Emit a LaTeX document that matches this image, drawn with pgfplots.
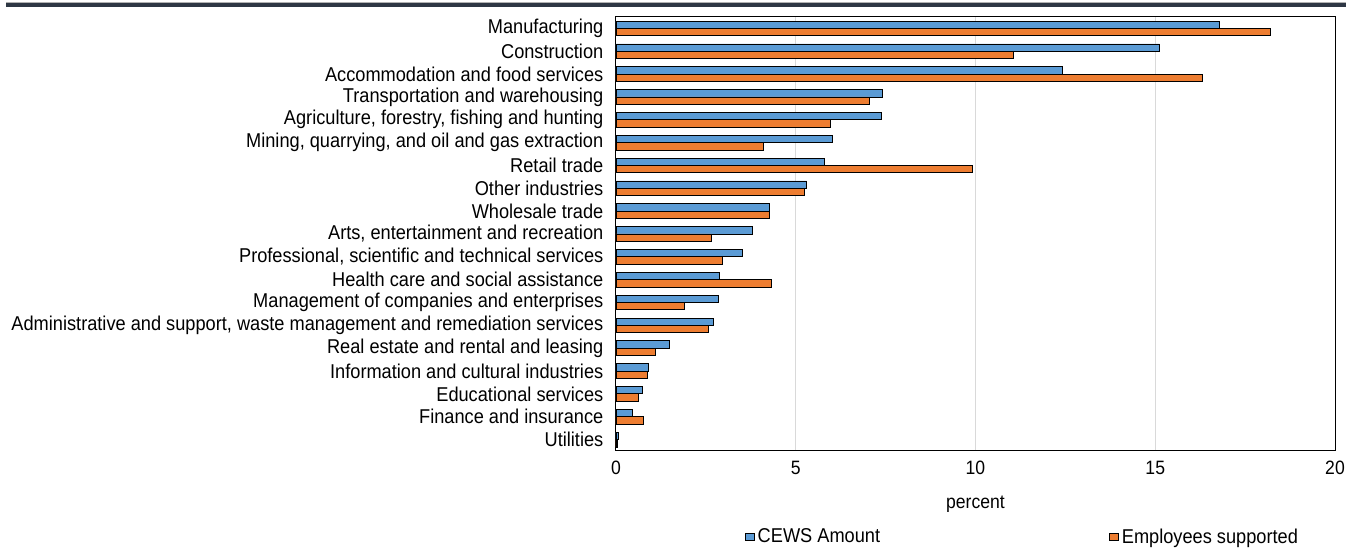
\documentclass[border=0pt]{standalone}
\usepackage{fontspec}
\setmainfont{Liberation Sans}[FakeStretch=0.91]
\usepackage{pgfplots}
\pgfplotsset{compat=1.18}
\definecolor{cblue}{HTML}{5B9BD5}
\definecolor{corange}{HTML}{ED7D31}
\definecolor{topbar}{HTML}{2E3744}
\definecolor{gridc}{HTML}{D9D9D9}
\begin{document}
\begin{tikzpicture}
\path[use as bounding box] (0,0) rectangle (1009.5pt,411pt);
\fill[topbar] (4.5pt,405.75pt) rectangle (1009.5pt,408.75pt);
\draw[gray!60,line width=0.5pt] (4.5pt,409pt) -- (1009.5pt,409pt);
\begin{axis}[
  at={(462pt,72.75pt)}, anchor=south west,
  scale only axis, width=539.25pt, height=325.5pt,
  xbar=0pt, bar width=5.5pt,
  xmin=0, xmax=20, ymin=-0.5, ymax=18.5,
  y dir=reverse,
  xtick={0,5,10,15,20},
  ytick={0,...,18},
  yticklabels={{Manufacturing},{Construction},{Accommodation and food services},{Transportation and warehousing},{Agriculture, forestry, fishing and hunting},{Mining, quarrying, and oil and gas extraction},{Retail trade},{Other industries},{Wholesale trade},{Arts, entertainment and recreation},{Professional, scientific and technical services},{Health care and social assistance},{Management of companies and enterprises},{Administrative and support, waste management and remediation services},{Real estate and rental and leasing},{Information and cultural industries},{Educational services},{Finance and insurance},{Utilities}},
  major tick length=0pt,
  xmajorgrids, major grid style={gridc, line width=0.75pt},
  axis line style={black, line width=0.75pt},
  /pgf/number format/assume math mode=true,
  yticklabel style={font=\fontsize{15pt}{17pt}\selectfont, xshift=-6pt},
  xticklabel style={font=\fontsize{14.5pt}{17pt}\selectfont, yshift=-4pt},
  xlabel={percent},
  xlabel style={font=\fontsize{14.5pt}{17pt}\selectfont, yshift=-9pt},
  legend columns=2,
  legend style={draw=none, fill=none, at={(0.1794,-0.198)}, anchor=west,
    font=\fontsize{15pt}{17pt}\selectfont,
    /tikz/every even column/.append style={column sep=170pt},
    inner sep=0pt, cells={anchor=west}},
  legend image code/.code={\draw[#1, line width=0.6pt] (0pt,-2.6pt) rectangle (6.75pt,2.6pt);},
  every axis plot/.append style={draw=black, line width=0.6pt},
]
\addplot[fill=cblue, bar shift=2.75pt] coordinates {
(16.78,0) (15.12,1) (12.43,2) (7.40,3) (7.37,4) (6.02,5) (5.80,6) (5.30,7) (4.26,8) (3.80,9)
(3.51,10) (2.87,11) (2.86,12) (2.71,13) (1.48,14) (0.90,15) (0.73,16) (0.46,17) (0.06,18)};
\addplot[fill=corange, bar shift=-2.75pt] coordinates {
(18.19,0) (11.06,1) (16.32,2) (7.04,3) (5.95,4) (4.09,5) (9.92,6) (5.23,7) (4.28,8) (2.66,9)
(2.96,10) (4.33,11) (1.90,12) (2.57,13) (1.09,14) (0.87,15) (0.61,16) (0.75,17) (0.04,18)};
\legend{CEWS Amount, Employees supported}
\draw[black, line width=1.5pt] (rel axis cs:0,0) -- (rel axis cs:1,0);
\end{axis}
\end{tikzpicture}
\end{document}
